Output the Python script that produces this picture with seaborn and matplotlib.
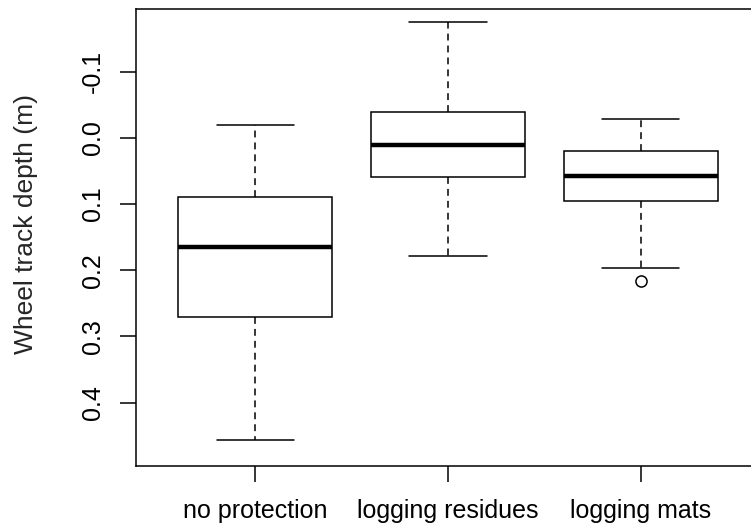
import numpy as np
import pandas as pd
import matplotlib
matplotlib.use('Agg')
import matplotlib.pyplot as plt
import seaborn as sns

# ─── Data ───────────────────────────────────────────────────────────────────
groups = ['no protection', 'logging residues', 'logging mats']
no_protection = [-0.020, 0.050, 0.089, 0.120, 0.165, 0.220, 0.270, 0.380, 0.456]
logging_residues = [-0.175, -0.090, -0.039, -0.010, 0.011, 0.040, 0.059, 0.120, 0.178]
logging_mats = [-0.029, 0.000, 0.019, 0.040, 0.058, 0.080, 0.096, 0.196, 0.216]
y_ticks = [-0.1, 0.0, 0.1, 0.2, 0.3, 0.4]

df = pd.DataFrame({
    'protection': np.repeat(groups, [len(no_protection), len(logging_residues), len(logging_mats)]),
    'depth': no_protection + logging_residues + logging_mats,
})

sns.set_style('white')
plt.rcParams['font.family'] = ['Liberation Sans', 'DejaVu Sans']

W, H = 751, 529
fig = plt.figure(figsize=(W / 100, H / 100), dpi=100)
ax = fig.add_axes([136 / W, 1 - 466 / H, 624 / W, 457 / H])

lw = 1.1
sns.boxplot(data=df, x='protection', y='depth', order=groups, ax=ax,
            color='white', linecolor='black', linewidth=lw, width=0.8,
            whis=1.5, fliersize=8,
            medianprops={'linewidth': 3.2, 'color': 'black'},
            whiskerprops={'linestyle': (0, (4.5, 3.3)), 'color': 'black'},
            flierprops={'marker': 'o', 'markerfacecolor': 'none',
                        'markeredgecolor': 'black', 'markeredgewidth': lw})

ax.set_xlim(-0.62, 2.62)
ax.set_ylim(0.496, -0.195)
ax.set_yticks(y_ticks)
ax.set_yticklabels([f'{v:.1f}' for v in y_ticks])
plt.setp(ax.get_yticklabels(), rotation=90, va='center')

ax.tick_params(axis='both', direction='out', length=11.5, width=lw,
               labelsize=18, colors='black', left=True, bottom=True)
ax.tick_params(axis='x', pad=12)
ax.tick_params(axis='y', pad=11)

ax.set_xlabel('')
ax.set_ylabel('Wheel track depth (m)', fontsize=19)
ax.yaxis.set_label_coords(-0.157, 0.53)

for s in ax.spines.values():
    s.set_visible(True)
    s.set_color('black')
    s.set_linewidth(lw)

fig.savefig('out.png', dpi=100)
